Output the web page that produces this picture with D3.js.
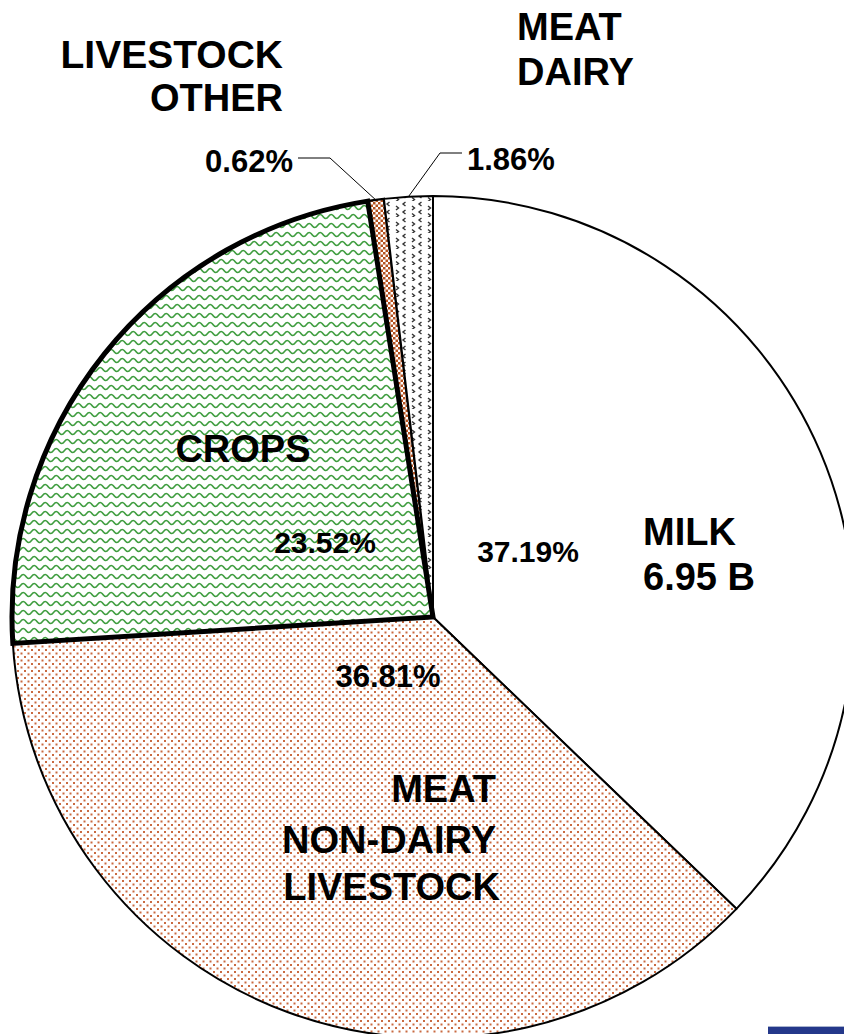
<!DOCTYPE html>
<html>
<head>
<meta charset="UTF-8">
<title>Farm income pie</title>
<script src="https://cdn.jsdelivr.net/npm/d3@7"></script>
<style>
  html, body { margin: 0; padding: 0; background: #fff; }
  svg { display: block; }
  text { font-family: "Liberation Sans", Arial, sans-serif; font-weight: bold; fill: #000; }
</style>
</head>
<body>
<script>
// slices, clockwise from 12 o'clock
var categories = ["MILK", "MEAT NON-DAIRY LIVESTOCK", "CROPS", "LIVESTOCK OTHER", "MEAT DAIRY"];
var shares = [37.19, 36.81, 23.52, 0.62, 1.86];
var shareLabels = ["37.19%", "36.81%", "23.52%", "0.62%", "1.86%"];
var milkValue = "6.95 B";

var width = 844, height = 1034;
var cx = 433, cy = 617, radius = 421;

var svg = d3.select("body").append("svg")
  .attr("width", width)
  .attr("height", height);

// fill patterns
var defs = svg.append("defs");

var pDots = defs.append("pattern").attr("id", "dots")
  .attr("patternUnits", "userSpaceOnUse").attr("width", 7).attr("height", 7);
pDots.append("rect").attr("width", 7).attr("height", 7).attr("fill", "#fff");
pDots.append("rect").attr("x", 0.5).attr("y", 0.5).attr("width", 2).attr("height", 2).attr("fill", "#c96a40");
pDots.append("rect").attr("x", 4).attr("y", 4).attr("width", 2).attr("height", 2).attr("fill", "#c96a40");

var pWave = defs.append("pattern").attr("id", "wave")
  .attr("patternUnits", "userSpaceOnUse").attr("width", 11).attr("height", 9);
pWave.append("rect").attr("width", 11).attr("height", 9).attr("fill", "#fff");
pWave.append("path")
  .attr("d", "M-5.5,4.5 Q-2.75,0.5 0,4.5 T5.5,4.5 T11,4.5 T16.5,4.5")
  .attr("fill", "none").attr("stroke", "#3f9d3f").attr("stroke-width", 1.5);

var pCheck = defs.append("pattern").attr("id", "check")
  .attr("patternUnits", "userSpaceOnUse").attr("width", 5).attr("height", 5);
pCheck.append("rect").attr("width", 5).attr("height", 5).attr("fill", "#fff");
pCheck.append("rect").attr("width", 2.5).attr("height", 2.5).attr("fill", "#b5521f");
pCheck.append("rect").attr("x", 2.5).attr("y", 2.5).attr("width", 2.5).attr("height", 2.5).attr("fill", "#b5521f");

var pChev = defs.append("pattern").attr("id", "chev")
  .attr("patternUnits", "userSpaceOnUse").attr("width", 16).attr("height", 16);
pChev.append("rect").attr("width", 16).attr("height", 16).attr("fill", "#fff");
pChev.append("path").attr("d", "M4.5,1 L2,3 L4.5,5").attr("fill", "none").attr("stroke", "#333").attr("stroke-width", 1.4);
pChev.append("path").attr("d", "M11,5 L13.5,7 L11,9").attr("fill", "none").attr("stroke", "#333").attr("stroke-width", 1.4);
pChev.append("path").attr("d", "M4.5,9 L2,11 L4.5,13").attr("fill", "none").attr("stroke", "#333").attr("stroke-width", 1.4);
pChev.append("path").attr("d", "M11,12.5 L13.5,14.5 L11,16.5").attr("fill", "none").attr("stroke", "#333").attr("stroke-width", 1.4);

var fills = ["#fff", "url(#dots)", "url(#wave)", "url(#check)", "url(#chev)"];
var strokeW = [2, 2, 5, 2.5, 2];

var pie = d3.pie().sort(null).value(function(d){ return d; });
var arcs = pie(shares);
var arc = d3.arc().innerRadius(0).outerRadius(radius);

var g = svg.append("g").attr("transform", "translate(" + cx + "," + cy + ")");

// thin slices first, thick crops border drawn last on top
var order = [0, 1, 3, 4, 2];
g.selectAll("path.slice")
  .data(order.map(function(i){ return arcs[i]; }))
  .enter().append("path")
  .attr("class", "slice")
  .attr("d", arc)
  .attr("fill", function(d){ return fills[d.index]; })
  .attr("stroke", "#000")
  .attr("stroke-width", function(d){ return strokeW[d.index]; })
  .attr("stroke-linejoin", "miter");

// leader lines for the two thin slices
function edgePoint(d, r) {
  var a = (d.startAngle + d.endAngle) / 2;
  return [r * Math.sin(a), -r * Math.cos(a)];
}
var leaders = [
  { idx: 3, knee: [330 - cx, 158 - cy], end: [298 - cx, 158 - cy] },
  { idx: 4, knee: [440 - cx, 153 - cy], end: [462 - cx, 153 - cy] }
];
g.selectAll("path.leader")
  .data(leaders)
  .enter().append("path")
  .attr("class", "leader")
  .attr("fill", "none")
  .attr("stroke", "#000")
  .attr("stroke-width", 1)
  .attr("d", function(l){
    return d3.line()([edgePoint(arcs[l.idx], radius), l.knee, l.end]);
  });

// labels: [text, x, y, anchor, size]
var labels = [
  [shareLabels[0], 528, 562, "middle", 30],
  ["MILK", 643, 545, "start", 38],
  [milkValue, 643, 590, "start", 38],
  [shareLabels[1], 388, 687, "middle", 31],
  ["MEAT", 496, 802, "end", 38],
  ["NON-DAIRY", 496, 853, "end", 38],
  ["LIVESTOCK", 500, 900, "end", 38],
  ["CROPS", 243, 462, "middle", 38],
  [shareLabels[2], 325, 553, "middle", 30],
  ["LIVESTOCK", 283, 68, "end", 39],
  ["OTHER", 283, 111, "end", 38],
  [shareLabels[3], 293, 172, "end", 31],
  ["MEAT", 517, 40, "start", 38],
  ["DAIRY", 517, 85, "start", 38],
  [shareLabels[4], 467, 170, "start", 31]
];
svg.selectAll("text.lbl")
  .data(labels)
  .enter().append("text")
  .attr("class", "lbl")
  .attr("x", function(d){ return d[1]; })
  .attr("y", function(d){ return d[2]; })
  .attr("text-anchor", function(d){ return d[3]; })
  .attr("font-size", function(d){ return d[4] + "px"; })
  .text(function(d){ return d[0]; });

// slide-footer strip in the lower right corner
svg.append("rect").attr("x", 768).attr("y", 1026).attr("width", 76).attr("height", 1).attr("fill", "#a9b4cf");
svg.append("rect").attr("x", 768).attr("y", 1027).attr("width", 76).attr("height", 7).attr("fill", "#24388a");
</script>
</body>
</html>
